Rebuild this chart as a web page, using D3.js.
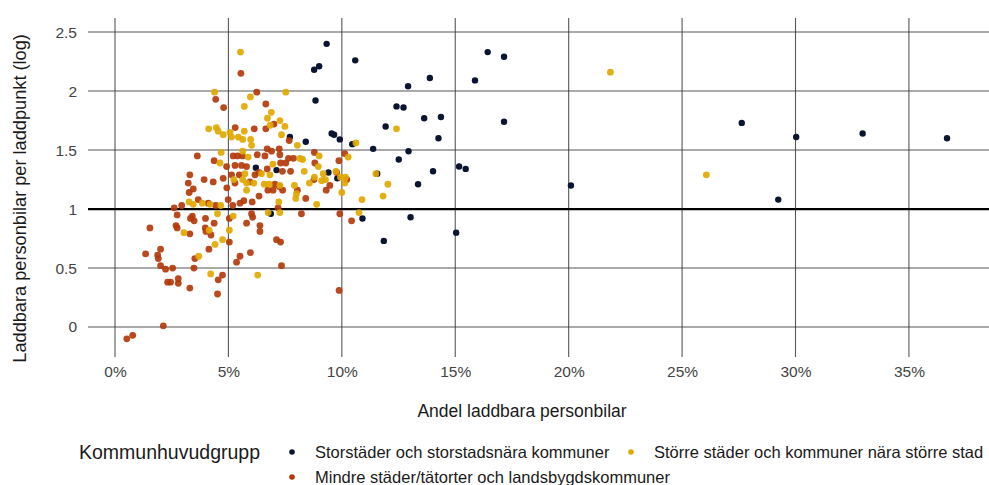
<!DOCTYPE html>
<html>
<head>
<meta charset="utf-8">
<script src="https://cdn.jsdelivr.net/npm/d3@7/dist/d3.min.js"></script>
<style>
  html, body { margin: 0; padding: 0; background: #fff; }
  svg { display: block; font-family: "Liberation Sans", Arial, sans-serif; }
</style>
</head>
<body>
<svg id="chart" width="989" height="485"></svg>
<script>
// Andel laddbara personbilar (%) och laddbara personbilar per laddpunkt (log), per kommun

// Storstäder och storstadsnära kommuner
const storX = [9.33, 9.00, 8.78, 10.59, 8.84, 9.55, 9.66, 9.91, 8.41, 7.71, 10.46, 11.38, 6.21, 7.12, 9.41, 9.80,
  6.87, 10.91, 16.43, 17.15, 13.88, 12.92, 15.87, 12.41, 12.72, 13.63, 14.37, 11.93, 17.15, 14.26, 12.94, 12.51,
  15.17, 15.46, 11.56, 14.02, 13.36, 20.10, 13.03, 15.04, 11.85, 27.63, 30.03, 32.96, 36.68, 29.24];
const storY = [2.40, 2.21, 2.18, 2.26, 1.92, 1.64, 1.63, 1.59, 1.57, 1.61, 1.55, 1.51, 1.35, 1.33, 1.31, 1.26,
  0.96, 0.92, 2.33, 2.29, 2.11, 2.04, 2.09, 1.87, 1.86, 1.77, 1.78, 1.70, 1.74, 1.60, 1.49, 1.42,
  1.36, 1.34, 1.30, 1.32, 1.21, 1.20, 0.93, 0.80, 0.73, 1.73, 1.61, 1.64, 1.60, 1.08];

// Större städer och kommuner nära större stad
const storreX = [5.53, 4.39, 5.97, 7.53, 5.70, 6.89, 6.72, 7.27, 6.84, 7.49, 4.13, 4.47, 4.55, 4.77, 5.07, 5.14,
  5.44, 5.63, 5.70, 5.98, 6.02, 7.34, 8.04, 4.68, 5.63, 5.87, 8.15, 8.27, 9.00, 10.28, 10.62, 4.63,
  6.96, 8.96, 5.73, 6.46, 6.83, 8.34, 9.18, 9.74, 9.94, 8.79, 5.24, 5.63, 6.12, 6.58, 6.80, 7.27,
  7.91, 8.57, 9.11, 9.28, 10.13, 10.16, 5.80, 5.80, 10.00, 8.00, 7.97, 7.22, 8.89, 10.89, 10.76, 6.75,
  7.27, 3.27, 3.45, 3.85, 4.19, 4.66, 4.52, 5.21, 3.04, 4.15, 5.04, 4.74, 4.41, 3.69, 4.22, 6.29,
  11.50, 12.03, 11.82, 12.41, 21.84, 26.07];
const storreY = [2.33, 1.99, 1.95, 1.99, 1.87, 1.82, 1.77, 1.75, 1.71, 1.70, 1.68, 1.69, 1.66, 1.63, 1.65, 1.61,
  1.61, 1.59, 1.66, 1.59, 1.54, 1.63, 1.54, 1.48, 1.49, 1.44, 1.43, 1.42, 1.45, 1.44, 1.56, 1.39,
  1.38, 1.36, 1.30, 1.30, 1.29, 1.32, 1.30, 1.32, 1.27, 1.27, 1.25, 1.25, 1.22, 1.21, 1.21, 1.20,
  1.20, 1.22, 1.24, 1.25, 1.22, 1.27, 1.16, 1.22, 1.14, 1.13, 1.09, 1.06, 1.04, 1.08, 0.97, 0.97,
  0.97, 1.06, 1.04, 1.05, 1.04, 1.03, 0.96, 0.94, 0.80, 0.82, 0.82, 0.74, 0.70, 0.60, 0.45, 0.44,
  1.30, 1.21, 1.11, 1.68, 2.16, 1.29];

// Mindre städer/tätorter och landsbygdskommuner
const mindreX = [5.55, 4.44, 4.79, 6.25, 6.65, 7.01, 5.30, 6.14, 6.65, 3.63, 4.37, 5.21, 5.40, 5.62, 6.27, 6.71,
  6.90, 7.24, 7.27, 7.68, 7.65, 7.87, 8.79, 8.81, 9.87, 10.13, 6.61, 4.92, 5.29, 5.58, 5.80, 6.71,
  7.30, 7.53, 7.38, 7.74, 9.77, 10.22, 8.77, 6.34, 6.17, 3.30, 5.14, 5.48, 5.95, 3.23, 3.93, 4.33,
  4.77, 5.29, 4.93, 3.45, 3.27, 6.35, 6.74, 7.05, 6.97, 7.39, 7.24, 8.04, 9.31, 9.47, 8.41, 7.19,
  6.05, 5.51, 5.68, 5.19, 4.99, 3.67, 4.11, 4.44, 2.94, 2.61, 2.74, 3.41, 3.49, 3.33, 3.99, 4.37,
  5.04, 5.80, 6.02, 6.07, 6.39, 8.22, 9.91, 10.43, 1.54, 2.69, 2.74, 3.30, 3.98, 4.01, 4.23, 5.04,
  6.39, 7.12, 7.30, 4.14, 5.97, 5.51, 5.36, 1.35, 2.01, 1.88, 1.91, 3.52, 7.34, 2.01, 2.23, 2.54,
  3.48, 4.74, 4.55, 2.32, 2.45, 2.79, 2.79, 3.30, 4.52, 9.88, 2.13, 0.78, 0.52];
const mindreY = [2.15, 1.93, 1.86, 1.99, 1.89, 1.72, 1.69, 1.68, 1.68, 1.45, 1.41, 1.45, 1.45, 1.45, 1.46, 1.51,
  1.49, 1.51, 1.46, 1.58, 1.43, 1.43, 1.48, 1.39, 1.41, 1.47, 1.45, 1.36, 1.37, 1.37, 1.36, 1.34,
  1.39, 1.39, 1.32, 1.32, 1.31, 1.25, 1.25, 1.31, 1.29, 1.29, 1.29, 1.29, 1.23, 1.22, 1.25, 1.23,
  1.26, 1.22, 1.18, 1.17, 1.14, 1.11, 1.16, 1.21, 1.16, 1.16, 1.19, 1.16, 1.16, 1.20, 1.09, 1.01,
  1.06, 1.05, 1.07, 1.03, 1.08, 1.08, 1.05, 1.03, 1.03, 1.01, 0.95, 0.94, 0.90, 0.92, 0.92, 0.88,
  0.92, 0.88, 0.96, 0.93, 0.86, 0.96, 0.96, 0.90, 0.84, 0.86, 0.84, 0.79, 0.84, 0.81, 0.78, 0.72,
  0.81, 0.74, 0.72, 0.66, 0.63, 0.60, 0.55, 0.62, 0.66, 0.61, 0.58, 0.58, 0.52, 0.52, 0.49, 0.50,
  0.50, 0.44, 0.40, 0.38, 0.38, 0.41, 0.37, 0.33, 0.28, 0.31, 0.01, -0.07, -0.10];

const groupNames = [
  "Storstäder och storstadsnära kommuner",
  "Större städer och kommuner nära större stad",
  "Mindre städer/tätorter och landsbygdskommuner"
];
const groupColors = ["#0a1530", "#e0a800", "#b3390b"];

const xTicks = [0, 5, 10, 15, 20, 25, 30, 35];
const xTickLabels = ["0%", "5%", "10%", "15%", "20%", "25%", "30%", "35%"];
const yTicks = [0, 0.5, 1, 1.5, 2, 2.5];
const yTickLabels = ["0", "0.5", "1", "1.5", "2", "2.5"];

const xTitle = "Andel laddbara personbilar";
const yTitle = "Laddbara personbilar per laddpunkt (log)";
const legendTitle = "Kommunhuvudgrupp";

// ---- layout ----
const svg = d3.select("#chart");
const panel = { left: 88, right: 989, top: 18, bottom: 357 };

const x = d3.scaleLinear().domain([-1.19, 38.53]).range([panel.left, panel.right]);
const y = d3.scaleLinear().domain([-0.254, 2.619]).range([panel.bottom, panel.top]);

const textColor = "#1a1a1a";
const tickColor = "#444";

// grid
const grid = svg.append("g");
grid.selectAll("line.v").data(xTicks).join("line")
  .attr("x1", d => x(d)).attr("x2", d => x(d))
  .attr("y1", panel.top).attr("y2", panel.bottom)
  .attr("stroke", "#3a3a3a").attr("stroke-width", 1.1).attr("stroke-opacity", 0.85);
grid.selectAll("line.h").data(yTicks.filter(d => d !== 1)).join("line")
  .attr("x1", panel.left).attr("x2", panel.right)
  .attr("y1", d => y(d)).attr("y2", d => y(d))
  .attr("stroke", "#3a3a3a").attr("stroke-width", 1.1).attr("stroke-opacity", 0.85);
// reference line at 1
grid.append("line")
  .attr("x1", panel.left).attr("x2", panel.right)
  .attr("y1", y(1)).attr("y2", y(1))
  .attr("stroke", "#000").attr("stroke-width", 2.2);

// axes (labels only; grid drawn above)
const xAxis = d3.axisBottom(x).tickValues(xTicks)
  .tickFormat((d, i) => xTickLabels[i]).tickSize(0).tickPadding(9);
const gx = svg.append("g").attr("transform", `translate(0,${panel.bottom})`).call(xAxis);
gx.select(".domain").remove();
gx.selectAll("text").attr("font-size", 15.5).attr("fill", tickColor)
  .attr("font-family", "Liberation Sans, Arial, sans-serif");

const yAxis = d3.axisLeft(y).tickValues(yTicks)
  .tickFormat((d, i) => yTickLabels[i]).tickSize(0).tickPadding(11);
const gy = svg.append("g").attr("transform", `translate(${panel.left},0)`).call(yAxis);
gy.select(".domain").remove();
gy.selectAll("text").attr("font-size", 15.5).attr("fill", tickColor)
  .attr("font-family", "Liberation Sans, Arial, sans-serif");

// titles
svg.append("text")
  .attr("x", 522).attr("y", 417)
  .attr("text-anchor", "middle").attr("font-size", 17.5).attr("fill", textColor)
  .text(xTitle);
svg.append("text")
  .attr("transform", `translate(26,${y(1.09)}) rotate(-90)`)
  .attr("text-anchor", "middle").attr("font-size", 18.2).attr("fill", textColor)
  .text(yTitle);

// points
const groups = [
  { xs: storX, ys: storY, g: 0 },
  { xs: mindreX, ys: mindreY, g: 2 },
  { xs: storreX, ys: storreY, g: 1 }
];
const pts = svg.append("g");
groups.forEach(grp => {
  const data = grp.xs.map((v, i) => ({ x: v, y: grp.ys[i] }));
  pts.append("g").selectAll("circle").data(data).join("circle")
    .attr("cx", d => x(d.x)).attr("cy", d => y(d.y))
    .attr("r", grp.g === 0 ? 3.2 : 3.4)
    .attr("fill", groupColors[grp.g])
    .attr("fill-opacity", grp.g === 0 ? 1 : 0.92);
});

// legend
svg.append("text")
  .attr("x", 79).attr("y", 459)
  .attr("font-size", 19.5).attr("fill", textColor)
  .text(legendTitle);
const legendItems = [
  { g: 0, cx: 292, cy: 452 },
  { g: 1, cx: 631, cy: 452 },
  { g: 2, cx: 292, cy: 477 }
];
const lg = svg.append("g");
lg.selectAll("circle").data(legendItems).join("circle")
  .attr("cx", d => d.cx).attr("cy", d => d.cy).attr("r", 2.8)
  .attr("fill", d => groupColors[d.g]);
lg.selectAll("text").data(legendItems).join("text")
  .attr("x", d => d.cx + 23).attr("y", d => d.cy + 6)
  .attr("font-size", 16.5).attr("fill", textColor)
  .text(d => groupNames[d.g]);
</script>
</body>
</html>
